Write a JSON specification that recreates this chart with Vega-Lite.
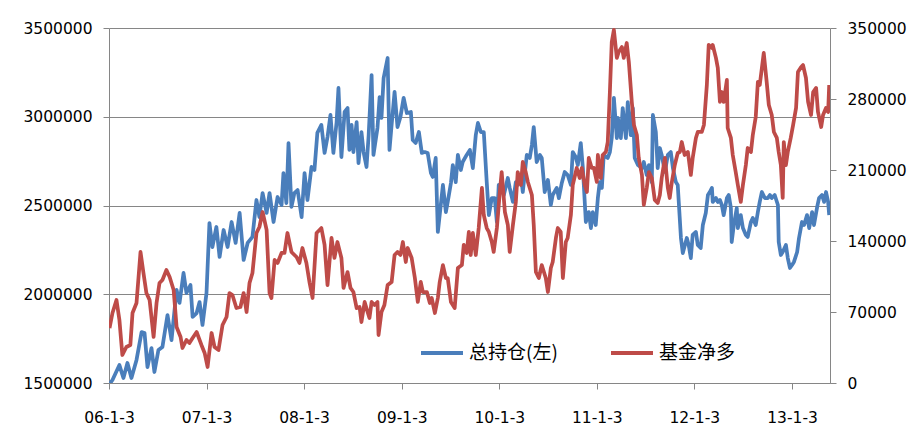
{
  "$schema": "https://vega.github.io/schema/vega-lite/v6.json",
  "width": 721,
  "height": 355,
  "autosize": "none",
  "padding": {"left": 109, "top": 28, "right": 92, "bottom": 53},
  "background": "white",
  "config": {
    "view": {"stroke": null},
    "font": "DejaVu Sans",
    "axis": {
      "labelFont": "DejaVu Sans",
      "labelFontSize": 15.5,
      "labelColor": "#000000",
      "domainColor": "#868686",
      "tickColor": "#868686",
      "gridColor": "#868686",
      "tickSize": 6,
      "title": null
    }
  },
  "layer": [
    {
      "data": {
        "format": {"parse": {"d": "date:'%Y-%j'"}},
        "values": [
          {"d":"2006-003","v":1490000},{"d":"2006-016","v":1517000},{"d":"2006-042","v":1601000},{"d":"2006-057","v":1528000},
          {"d":"2006-072","v":1613000},{"d":"2006-087","v":1528000},{"d":"2006-106","v":1630000},{"d":"2006-125","v":1787000},
          {"d":"2006-136","v":1782000},{"d":"2006-147","v":1590000},{"d":"2006-162","v":1697000},{"d":"2006-173","v":1562000},
          {"d":"2006-188","v":1686000},{"d":"2006-203","v":1703000},{"d":"2006-222","v":1883000},{"d":"2006-237","v":1742000},
          {"d":"2006-256","v":2024000},{"d":"2006-267","v":1951000},{"d":"2006-282","v":2120000},{"d":"2006-293","v":2007000},
          {"d":"2006-308","v":2052000},{"d":"2006-316","v":1872000},{"d":"2006-331","v":1894000},{"d":"2006-342","v":1956000},
          {"d":"2006-353","v":1827000},{"d":"2007-003","v":2007000},{"d":"2007-014","v":2401000},{"d":"2007-025","v":2266000},
          {"d":"2007-040","v":2379000},{"d":"2007-052","v":2210000},{"d":"2007-067","v":2362000},{"d":"2007-082","v":2266000},
          {"d":"2007-097","v":2407000},{"d":"2007-112","v":2289000},{"d":"2007-127","v":2458000},{"d":"2007-142","v":2193000},
          {"d":"2007-157","v":2289000},{"d":"2007-175","v":2323000},{"d":"2007-190","v":2531000},{"d":"2007-201","v":2435000},
          {"d":"2007-213","v":2570000},{"d":"2007-228","v":2458000},{"d":"2007-239","v":2570000},{"d":"2007-254","v":2407000},
          {"d":"2007-269","v":2548000},{"d":"2007-284","v":2503000},{"d":"2007-291","v":2683000},{"d":"2007-302","v":2514000},
          {"d":"2007-310","v":2852000},{"d":"2007-321","v":2492000},{"d":"2007-332","v":2570000},{"d":"2007-344","v":2587000},
          {"d":"2007-359","v":2435000},{"d":"2008-005","v":2683000},{"d":"2008-016","v":2531000},{"d":"2008-031","v":2717000},
          {"d":"2008-042","v":2700000},{"d":"2008-053","v":2909000},{"d":"2008-068","v":2954000},{"d":"2008-080","v":2796000},
          {"d":"2008-091","v":2886000},{"d":"2008-102","v":3010000},{"d":"2008-113","v":2796000},{"d":"2008-125","v":2970000},
          {"d":"2008-132","v":3162000},{"d":"2008-143","v":2773000},{"d":"2008-155","v":3027000},{"d":"2008-166","v":3049000},
          {"d":"2008-173","v":2813000},{"d":"2008-181","v":2954000},{"d":"2008-188","v":2801000},{"d":"2008-200","v":2970000},
          {"d":"2008-207","v":2739000},{"d":"2008-218","v":2914000},{"d":"2008-226","v":2801000},{"d":"2008-237","v":2717000},
          {"d":"2008-245","v":2897000},{"d":"2008-256","v":3235000},{"d":"2008-263","v":2785000},{"d":"2008-278","v":2937000},
          {"d":"2008-286","v":3111000},{"d":"2008-293","v":2993000},{"d":"2008-301","v":3218000},{"d":"2008-316","v":3331000},
          {"d":"2008-323","v":2813000},{"d":"2008-331","v":2954000},{"d":"2008-342","v":3140000},{"d":"2008-353","v":2942000},
          {"d":"2008-364","v":2999000},{"d":"2009-010","v":3106000},{"d":"2009-022","v":3021000},{"d":"2009-037","v":3027000},
          {"d":"2009-044","v":2869000},{"d":"2009-055","v":2852000},{"d":"2009-067","v":2914000},{"d":"2009-078","v":2796000},
          {"d":"2009-089","v":2801000},{"d":"2009-100","v":2796000},{"d":"2009-112","v":2683000},{"d":"2009-119","v":2661000},
          {"d":"2009-130","v":2768000},{"d":"2009-138","v":2351000},{"d":"2009-149","v":2503000},{"d":"2009-157","v":2616000},
          {"d":"2009-168","v":2463000},{"d":"2009-175","v":2520000},{"d":"2009-187","v":2627000},{"d":"2009-194","v":2728000},
          {"d":"2009-205","v":2632000},{"d":"2009-213","v":2785000},{"d":"2009-224","v":2700000},{"d":"2009-231","v":2745000},
          {"d":"2009-246","v":2785000},{"d":"2009-258","v":2813000},{"d":"2009-269","v":2711000},{"d":"2009-280","v":2897000},
          {"d":"2009-288","v":2965000},{"d":"2009-299","v":2914000},{"d":"2009-310","v":2914000},{"d":"2009-321","v":2632000},
          {"d":"2009-329","v":2446000},{"d":"2009-340","v":2542000},{"d":"2009-351","v":2542000},{"d":"2009-359","v":2407000},
          {"d":"2010-001","v":2616000},{"d":"2010-012","v":2604000},{"d":"2010-020","v":2559000},{"d":"2010-035","v":2655000},
          {"d":"2010-042","v":2599000},{"d":"2010-054","v":2520000},{"d":"2010-065","v":2632000},{"d":"2010-072","v":2616000},
          {"d":"2010-084","v":2672000},{"d":"2010-091","v":2576000},{"d":"2010-106","v":2785000},{"d":"2010-117","v":2768000},
          {"d":"2010-125","v":2841000},{"d":"2010-132","v":2942000},{"d":"2010-143","v":2745000},{"d":"2010-155","v":2785000},
          {"d":"2010-162","v":2768000},{"d":"2010-173","v":2576000},{"d":"2010-185","v":2644000},{"d":"2010-196","v":2503000},
          {"d":"2010-203","v":2559000},{"d":"2010-218","v":2599000},{"d":"2010-226","v":2542000},{"d":"2010-237","v":2627000},
          {"d":"2010-248","v":2689000},{"d":"2010-259","v":2672000},{"d":"2010-271","v":2616000},{"d":"2010-278","v":2801000},
          {"d":"2010-289","v":2773000},{"d":"2010-297","v":2728000},{"d":"2010-308","v":2852000},{"d":"2010-316","v":2711000},
          {"d":"2010-327","v":2407000},{"d":"2010-338","v":2463000},{"d":"2010-346","v":2373000},{"d":"2010-353","v":2463000},
          {"d":"2010-364","v":2390000},{"d":"2011-007","v":2542000},{"d":"2011-014","v":2632000},{"d":"2011-022","v":2599000},
          {"d":"2011-029","v":2785000},{"d":"2011-044","v":2768000},{"d":"2011-052","v":2801000},{"d":"2011-059","v":2880000},
          {"d":"2011-067","v":3106000},{"d":"2011-078","v":2880000},{"d":"2011-082","v":2993000},{"d":"2011-093","v":2880000},
          {"d":"2011-100","v":3049000},{"d":"2011-112","v":2880000},{"d":"2011-119","v":3083000},{"d":"2011-130","v":2897000},
          {"d":"2011-138","v":3049000},{"d":"2011-145","v":2768000},{"d":"2011-157","v":2728000},{"d":"2011-172","v":2711000},
          {"d":"2011-179","v":2745000},{"d":"2011-190","v":2672000},{"d":"2011-198","v":2728000},{"d":"2011-209","v":2632000},
          {"d":"2011-213","v":3010000},{"d":"2011-224","v":2914000},{"d":"2011-231","v":2711000},{"d":"2011-239","v":2824000},
          {"d":"2011-246","v":2785000},{"d":"2011-258","v":2689000},{"d":"2011-269","v":2785000},{"d":"2011-280","v":2801000},
          {"d":"2011-288","v":2711000},{"d":"2011-299","v":2632000},{"d":"2011-306","v":2616000},{"d":"2011-318","v":2317000},
          {"d":"2011-325","v":2232000},{"d":"2011-340","v":2317000},{"d":"2011-347","v":2278000},{"d":"2011-355","v":2204000},
          {"d":"2011-362","v":2334000},{"d":"2012-009","v":2351000},{"d":"2012-016","v":2278000},{"d":"2012-027","v":2260000},
          {"d":"2012-035","v":2390000},{"d":"2012-046","v":2458000},{"d":"2012-054","v":2559000},{"d":"2012-061","v":2576000},
          {"d":"2012-069","v":2599000},{"d":"2012-072","v":2520000},{"d":"2012-084","v":2542000},{"d":"2012-091","v":2520000},
          {"d":"2012-099","v":2531000},{"d":"2012-106","v":2503000},{"d":"2012-113","v":2446000},{"d":"2012-125","v":2542000},
          {"d":"2012-132","v":2559000},{"d":"2012-140","v":2486000},{"d":"2012-143","v":2294000},{"d":"2012-151","v":2390000},
          {"d":"2012-162","v":2486000},{"d":"2012-166","v":2373000},{"d":"2012-177","v":2446000},{"d":"2012-185","v":2373000},
          {"d":"2012-196","v":2334000},{"d":"2012-203","v":2323000},{"d":"2012-215","v":2407000},{"d":"2012-222","v":2430000},
          {"d":"2012-233","v":2390000},{"d":"2012-241","v":2463000},{"d":"2012-248","v":2520000},{"d":"2012-256","v":2576000},
          {"d":"2012-267","v":2542000},{"d":"2012-278","v":2542000},{"d":"2012-286","v":2559000},{"d":"2012-293","v":2542000},
          {"d":"2012-304","v":2559000},{"d":"2012-316","v":2503000},{"d":"2012-319","v":2294000},{"d":"2012-327","v":2221000},
          {"d":"2012-334","v":2238000},{"d":"2012-346","v":2278000},{"d":"2012-353","v":2204000},{"d":"2012-361","v":2148000},
          {"d":"2013-003","v":2165000},{"d":"2013-010","v":2182000},{"d":"2013-022","v":2238000},{"d":"2013-029","v":2317000},
          {"d":"2013-040","v":2407000},{"d":"2013-048","v":2390000},{"d":"2013-059","v":2446000},{"d":"2013-067","v":2373000},
          {"d":"2013-078","v":2463000},{"d":"2013-085","v":2390000},{"d":"2013-097","v":2492000},{"d":"2013-104","v":2542000},
          {"d":"2013-115","v":2559000},{"d":"2013-123","v":2520000},{"d":"2013-130","v":2576000},{"d":"2013-138","v":2520000},
          {"d":"2013-142","v":2446000}
        ]
      },
      "mark": {"type": "line", "strokeWidth": 3.75, "clip": true, "strokeJoin": "round"},
      "encoding": {
        "x": {
          "field": "d", "type": "temporal",
          "scale": {"domain": [{"year": 2006, "month": 1, "date": 3}, {"year": 2013, "month": 5, "date": 25}]},
          "axis": {
            "values": [
              {"year": 2006, "month": 1, "date": 3}, {"year": 2007, "month": 1, "date": 3},
              {"year": 2008, "month": 1, "date": 3}, {"year": 2009, "month": 1, "date": 3},
              {"year": 2010, "month": 1, "date": 3}, {"year": 2011, "month": 1, "date": 3},
              {"year": 2012, "month": 1, "date": 3}, {"year": 2013, "month": 1, "date": 3}
            ],
            "format": "%y-%-m-%-d",
            "grid": false,
            "labelPadding": 21,
            "labelFlush": false,
            "labelOverlap": false
          }
        },
        "y": {
          "field": "v", "type": "quantitative",
          "scale": {"domain": [1500000, 3500000], "nice": false, "zero": false},
          "axis": {
            "values": [1500000, 2000000, 2500000, 3000000, 3500000],
            "format": "d",
            "grid": true,
            "labelPadding": 11
          }
        },
        "color": {
          "datum": "总持仓(左)",
          "type": "nominal",
          "scale": {"domain": ["总持仓(左)", "基金净多"], "range": ["#4A7EBB", "#BE4B48"]},
          "legend": {
            "orient": "none",
            "legendX": 310,
            "legendY": 302,
            "direction": "horizontal",
            "title": null,
            "symbolType": "stroke",
            "symbolSize": 1764,
            "symbolStrokeWidth": 4,
            "labelFont": "Noto Sans CJK SC",
            "labelFontSize": 19,
            "labelColor": "#000000",
            "labelOffset": 4,
            "columnPadding": 45
          }
        }
      }
    },
    {
      "data": {
        "format": {"parse": {"d": "date:'%Y-%j'"}},
        "values": [
          {"d":"2006-005","v":54200},{"d":"2006-016","v":69000},{"d":"2006-031","v":81800},{"d":"2006-042","v":62100},
          {"d":"2006-053","v":27600},{"d":"2006-068","v":35500},{"d":"2006-083","v":37500},{"d":"2006-091","v":69000},
          {"d":"2006-106","v":78900},{"d":"2006-121","v":129200},{"d":"2006-132","v":108500},{"d":"2006-143","v":88700},
          {"d":"2006-155","v":81800},{"d":"2006-170","v":45400},{"d":"2006-181","v":78900},{"d":"2006-192","v":98600},
          {"d":"2006-203","v":101600},{"d":"2006-218","v":111400},{"d":"2006-230","v":104500},{"d":"2006-245","v":91700},
          {"d":"2006-256","v":55200},{"d":"2006-271","v":45400},{"d":"2006-278","v":34500},{"d":"2006-293","v":42400},
          {"d":"2006-304","v":39400},{"d":"2006-316","v":44400},{"d":"2006-331","v":50300},{"d":"2006-349","v":37500},
          {"d":"2006-361","v":29600},{"d":"2007-007","v":15800},{"d":"2007-022","v":49300},{"d":"2007-033","v":35500},
          {"d":"2007-048","v":32500},{"d":"2007-063","v":57200},{"d":"2007-078","v":65100},{"d":"2007-089","v":88700},
          {"d":"2007-100","v":86800},{"d":"2007-115","v":73900},{"d":"2007-130","v":74900},{"d":"2007-142","v":88700},
          {"d":"2007-153","v":70000},{"d":"2007-164","v":98600},{"d":"2007-175","v":108500},{"d":"2007-190","v":147900},
          {"d":"2007-201","v":153800},{"d":"2007-213","v":168600},{"d":"2007-228","v":150900},{"d":"2007-239","v":88700},
          {"d":"2007-246","v":83800},{"d":"2007-258","v":121300},{"d":"2007-269","v":118300},{"d":"2007-284","v":128200},
          {"d":"2007-295","v":128200},{"d":"2007-306","v":147900},{"d":"2007-321","v":129200},{"d":"2007-340","v":124200},
          {"d":"2007-351","v":118300},{"d":"2007-362","v":133100},{"d":"2008-012","v":118300},{"d":"2008-024","v":98600},
          {"d":"2008-035","v":83800},{"d":"2008-050","v":147900},{"d":"2008-061","v":150900},{"d":"2008-068","v":152800},
          {"d":"2008-080","v":136100},{"d":"2008-091","v":96600},{"d":"2008-106","v":143000},{"d":"2008-117","v":123300},
          {"d":"2008-128","v":139000},{"d":"2008-143","v":123300},{"d":"2008-151","v":93700},{"d":"2008-166","v":109400},
          {"d":"2008-177","v":93700},{"d":"2008-188","v":89700},{"d":"2008-200","v":73900},{"d":"2008-211","v":74900},
          {"d":"2008-218","v":60100},{"d":"2008-230","v":79900},{"d":"2008-241","v":70000},{"d":"2008-248","v":64100},
          {"d":"2008-256","v":79900},{"d":"2008-267","v":76900},{"d":"2008-278","v":79900},{"d":"2008-282","v":47300},
          {"d":"2008-293","v":70000},{"d":"2008-304","v":76900},{"d":"2008-316","v":96600},{"d":"2008-331","v":99600},
          {"d":"2008-342","v":126200},{"d":"2008-353","v":129200},{"d":"2008-364","v":126200},{"d":"2009-007","v":139000},
          {"d":"2009-018","v":119300},{"d":"2009-025","v":133100},{"d":"2009-040","v":123300},{"d":"2009-052","v":103500},
          {"d":"2009-063","v":79900},{"d":"2009-074","v":99600},{"d":"2009-082","v":89700},{"d":"2009-097","v":89700},
          {"d":"2009-108","v":78900},{"d":"2009-115","v":83800},{"d":"2009-127","v":69000},{"d":"2009-138","v":83800},
          {"d":"2009-145","v":99600},{"d":"2009-157","v":116300},{"d":"2009-168","v":103500},{"d":"2009-175","v":103500},
          {"d":"2009-187","v":79900},{"d":"2009-201","v":73900},{"d":"2009-213","v":113400},{"d":"2009-228","v":116300},
          {"d":"2009-235","v":136100},{"d":"2009-246","v":128200},{"d":"2009-254","v":148900},{"d":"2009-261","v":126200},
          {"d":"2009-269","v":147900},{"d":"2009-280","v":126200},{"d":"2009-291","v":152800},{"d":"2009-303","v":192300},
          {"d":"2009-310","v":165600},{"d":"2009-321","v":152800},{"d":"2009-329","v":148900},{"d":"2009-340","v":139000},
          {"d":"2009-347","v":129200},{"d":"2009-359","v":152800},{"d":"2010-005","v":188300},{"d":"2010-012","v":208000},
          {"d":"2010-024","v":168600},{"d":"2010-035","v":155800},{"d":"2010-042","v":129200},{"d":"2010-054","v":155800},
          {"d":"2010-065","v":178500},{"d":"2010-072","v":208000},{"d":"2010-084","v":195200},{"d":"2010-091","v":217900},
          {"d":"2010-102","v":208000},{"d":"2010-110","v":198200},{"d":"2010-125","v":185400},{"d":"2010-132","v":155800},
          {"d":"2010-140","v":109400},{"d":"2010-151","v":103500},{"d":"2010-162","v":116300},{"d":"2010-177","v":103500},
          {"d":"2010-185","v":89700},{"d":"2010-196","v":113400},{"d":"2010-203","v":119300},{"d":"2010-215","v":143000},
          {"d":"2010-222","v":152800},{"d":"2010-233","v":148900},{"d":"2010-241","v":103500},{"d":"2010-252","v":139000},
          {"d":"2010-259","v":143000},{"d":"2010-271","v":165600},{"d":"2010-278","v":195200},{"d":"2010-293","v":212000},
          {"d":"2010-304","v":202100},{"d":"2010-312","v":212000},{"d":"2010-323","v":195200},{"d":"2010-331","v":188300},
          {"d":"2010-338","v":221900},{"d":"2010-349","v":212000},{"d":"2010-357","v":212000},{"d":"2011-003","v":198200},
          {"d":"2011-007","v":224800},{"d":"2011-018","v":202100},{"d":"2011-025","v":224800},{"d":"2011-037","v":227800},
          {"d":"2011-044","v":237600},{"d":"2011-052","v":286900},{"d":"2011-059","v":336200},{"d":"2011-067","v":348100},
          {"d":"2011-078","v":320500},{"d":"2011-085","v":326400},{"d":"2011-097","v":331300},{"d":"2011-104","v":320500},
          {"d":"2011-115","v":335200},{"d":"2011-123","v":316500},{"d":"2011-134","v":277100},{"d":"2011-142","v":254400},
          {"d":"2011-153","v":244500},{"d":"2011-160","v":221900},{"d":"2011-172","v":205100},{"d":"2011-179","v":175500},
          {"d":"2011-190","v":192300},{"d":"2011-198","v":208000},{"d":"2011-209","v":202100},{"d":"2011-220","v":180400},
          {"d":"2011-231","v":177500},{"d":"2011-239","v":185400},{"d":"2011-246","v":202100},{"d":"2011-258","v":222000},
          {"d":"2011-269","v":192300},{"d":"2011-276","v":182400},{"d":"2011-284","v":198200},{"d":"2011-295","v":214900},
          {"d":"2011-306","v":226800},{"d":"2011-314","v":227800},{"d":"2011-321","v":237600},{"d":"2011-332","v":224800},
          {"d":"2011-344","v":227800},{"d":"2011-355","v":205100},{"d":"2011-362","v":221900},{"d":"2012-009","v":241600},
          {"d":"2012-016","v":247500},{"d":"2012-031","v":247500},{"d":"2012-039","v":254400},{"d":"2012-050","v":293800},
          {"d":"2012-057","v":333300},{"d":"2012-069","v":330300},{"d":"2012-072","v":333300},{"d":"2012-084","v":320500},
          {"d":"2012-091","v":310600},{"d":"2012-099","v":277100},{"d":"2012-106","v":286900},{"d":"2012-113","v":277100},
          {"d":"2012-125","v":298800},{"d":"2012-128","v":251400},{"d":"2012-140","v":241600},{"d":"2012-147","v":224800},
          {"d":"2012-158","v":208000},{"d":"2012-166","v":195200},{"d":"2012-177","v":178500},{"d":"2012-185","v":195200},
          {"d":"2012-196","v":214900},{"d":"2012-203","v":231700},{"d":"2012-215","v":227800},{"d":"2012-222","v":244500},
          {"d":"2012-233","v":262300},{"d":"2012-241","v":296800},{"d":"2012-248","v":293800},{"d":"2012-256","v":310600},
          {"d":"2012-263","v":325400},{"d":"2012-274","v":296800},{"d":"2012-282","v":274100},{"d":"2012-293","v":264200},
          {"d":"2012-301","v":247500},{"d":"2012-312","v":241600},{"d":"2012-319","v":227800},{"d":"2012-327","v":214900},
          {"d":"2012-334","v":182400},{"d":"2012-338","v":237600},{"d":"2012-346","v":214900},{"d":"2012-353","v":227800},
          {"d":"2012-364","v":241600},{"d":"2013-007","v":254400},{"d":"2013-018","v":271200},{"d":"2013-025","v":306600},
          {"d":"2013-037","v":311600},{"d":"2013-044","v":313500},{"d":"2013-055","v":300700},{"d":"2013-063","v":277100},
          {"d":"2013-074","v":264200},{"d":"2013-082","v":286900},{"d":"2013-093","v":290900},{"d":"2013-100","v":267200},
          {"d":"2013-112","v":252400},{"d":"2013-119","v":264200},{"d":"2013-130","v":271200},{"d":"2013-138","v":267200},
          {"d":"2013-142","v":293800}
        ]
      },
      "mark": {"type": "line", "strokeWidth": 3.75, "clip": true, "strokeJoin": "round"},
      "encoding": {
        "x": {"field": "d", "type": "temporal"},
        "y": {
          "field": "v", "type": "quantitative",
          "scale": {"domain": [0, 350000], "nice": false},
          "axis": {
            "orient": "right",
            "values": [0, 70000, 140000, 210000, 280000, 350000],
            "format": "d",
            "grid": false,
            "labelPadding": 11
          }
        },
        "color": {"datum": "基金净多", "type": "nominal"}
      }
    }
  ],
  "resolve": {"scale": {"y": "independent"}}
}
